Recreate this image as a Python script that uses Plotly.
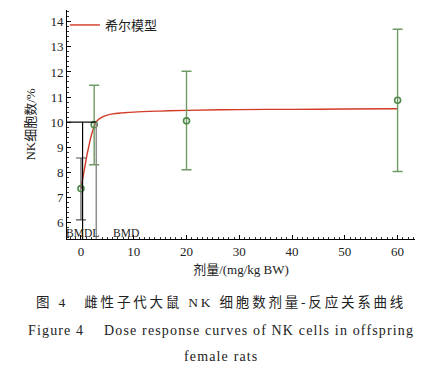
import plotly.graph_objects as go

# ---- data ----
doses = [0, 2.5, 20, 60]
means = [7.35, 9.9, 10.05, 10.87]
upper = [8.57, 11.47, 12.03, 13.7]
lower = [6.1, 8.3, 8.1, 8.03]

curve_x = [0, 0.25, 0.5, 0.8, 1.1, 1.4, 1.7, 2.0, 2.4, 2.8, 3.3, 4, 5, 6, 8, 10, 15, 20, 30, 40, 50, 60]
curve_y = [7.35, 7.65, 7.95, 8.3, 8.65, 8.95, 9.25, 9.5, 9.78, 9.97, 10.1, 10.2, 10.28, 10.33, 10.37, 10.4, 10.44, 10.47, 10.5, 10.51, 10.52, 10.53]

bmdl = 0.3
bmd = 2.9
bmr_level = 10.0

x_ticks = [0, 10, 20, 30, 40, 50, 60]
y_ticks = [6, 7, 8, 9, 10, 11, 12, 13, 14]
x_range = [-2.65, 63.3]
y_range = [5.34, 14.47]

SERIF = "Liberation Serif, Noto Sans CJK SC"
GREEN = "#6f9a63"
GREEN_DARK = "#4e8a4a"
RED = "#d23a26"

fig = go.Figure()

# BMD / BMDL reference lines
fig.add_shape(type="line", x0=x_range[0], x1=bmd, y0=bmr_level, y1=bmr_level,
              line=dict(color="black", width=1.2))
fig.add_shape(type="line", x0=bmdl, x1=bmdl, y0=y_range[0], y1=bmr_level,
              line=dict(color="black", width=1.2))
fig.add_shape(type="line", x0=bmd, x1=bmd, y0=y_range[0], y1=bmr_level,
              line=dict(color="#8c8c8c", width=1.5))

# Hill model curve
fig.add_trace(go.Scatter(x=curve_x, y=curve_y, mode="lines", name="希尔模型",
                         line=dict(color=RED, width=1.4, shape="spline")))

# observed data with error bars
err_plus = [u - m for u, m in zip(upper, means)]
err_minus = [m - l for m, l in zip(means, lower)]
fig.add_trace(go.Scatter(
    x=doses[:1], y=means[:1], mode="markers", showlegend=False,
    marker=dict(symbol="circle-open", size=6, color=GREEN_DARK, line=dict(width=1.6)),
    error_y=dict(type="data", symmetric=False, array=err_plus[:1], arrayminus=err_minus[:1],
                 color="#555555", thickness=1.2, width=5)))
fig.add_trace(go.Scatter(
    x=doses[1:], y=means[1:], mode="markers", showlegend=False,
    marker=dict(symbol="circle-open", size=6, color=GREEN_DARK, line=dict(width=1.6)),
    error_y=dict(type="data", symmetric=False, array=err_plus[1:], arrayminus=err_minus[1:],
                 color=GREEN, thickness=1.4, width=5)))

# BMDL / BMD labels
fig.add_annotation(x=bmdl, y=y_range[0], text="BMDL", showarrow=False, xanchor="center",
                   yanchor="bottom", yshift=-2, font=dict(family=SERIF, size=11.5, color="#222"))
fig.add_annotation(x=bmd, y=y_range[0], text="BMD", showarrow=False, xanchor="left",
                   xshift=15, yanchor="bottom", yshift=-2, font=dict(family=SERIF, size=11.5, color="#222"))

# captions
fig.add_annotation(x=0.442, y=-0.319, xref="paper", yref="paper", showarrow=False,
                   text="<span style='letter-spacing:2.8px'>图 4　雌性子代大鼠 NK 细胞数剂量-反应关系曲线</span>",
                   font=dict(family=SERIF, size=13.5, color="#222"))
fig.add_annotation(x=0.442, y=-0.441, xref="paper", yref="paper", showarrow=False,
                   text="<span style='letter-spacing:1.15px'>Figure 4　 Dose response curves of NK cells in offspring</span>",
                   font=dict(family=SERIF, size=14, color="#222"))
fig.add_annotation(x=0.442, y=-0.553, xref="paper", yref="paper", showarrow=False,
                   text="<span style='letter-spacing:1.15px'>female rats</span>",
                   font=dict(family=SERIF, size=14, color="#222"))

fig.update_layout(
    width=443, height=374,
    margin=dict(l=67, r=28, t=10, b=135),
    paper_bgcolor="white", plot_bgcolor="white",
    font=dict(family=SERIF, size=13, color="#222"),
    showlegend=True,
    legend=dict(x=-0.006, y=1.0, xanchor="left", yanchor="top", bgcolor="rgba(0,0,0,0)",
                font=dict(family=SERIF, size=13), itemwidth=30),
    xaxis=dict(range=x_range, tickvals=x_ticks, showgrid=False, zeroline=False,
               showline=True, linecolor="black", linewidth=1, automargin=False,
               ticks="inside", ticklen=4, tickcolor="black",
               minor=dict(dtick=1, ticks="inside", ticklen=2, tickcolor="#333"),
               title=dict(text="剂量/(mg/kg BW)", standoff=7, font=dict(family=SERIF, size=13)),
               tickfont=dict(family=SERIF, size=13)),
    yaxis=dict(range=y_range, tickvals=y_ticks, showgrid=False, zeroline=False,
               showline=True, linecolor="black", linewidth=1, automargin=False,
               ticks="inside", ticklen=4, tickcolor="black",
               minor=dict(dtick=0.2, ticks="inside", ticklen=2, tickcolor="#333"),
               title=dict(text="NK细胞数/%", standoff=11, font=dict(family=SERIF, size=13)),
               tickfont=dict(family=SERIF, size=13)),
)

fig.write_html("out.html", config={"displayModeBar": False},
               post_script="document.body.style.margin='0';")
